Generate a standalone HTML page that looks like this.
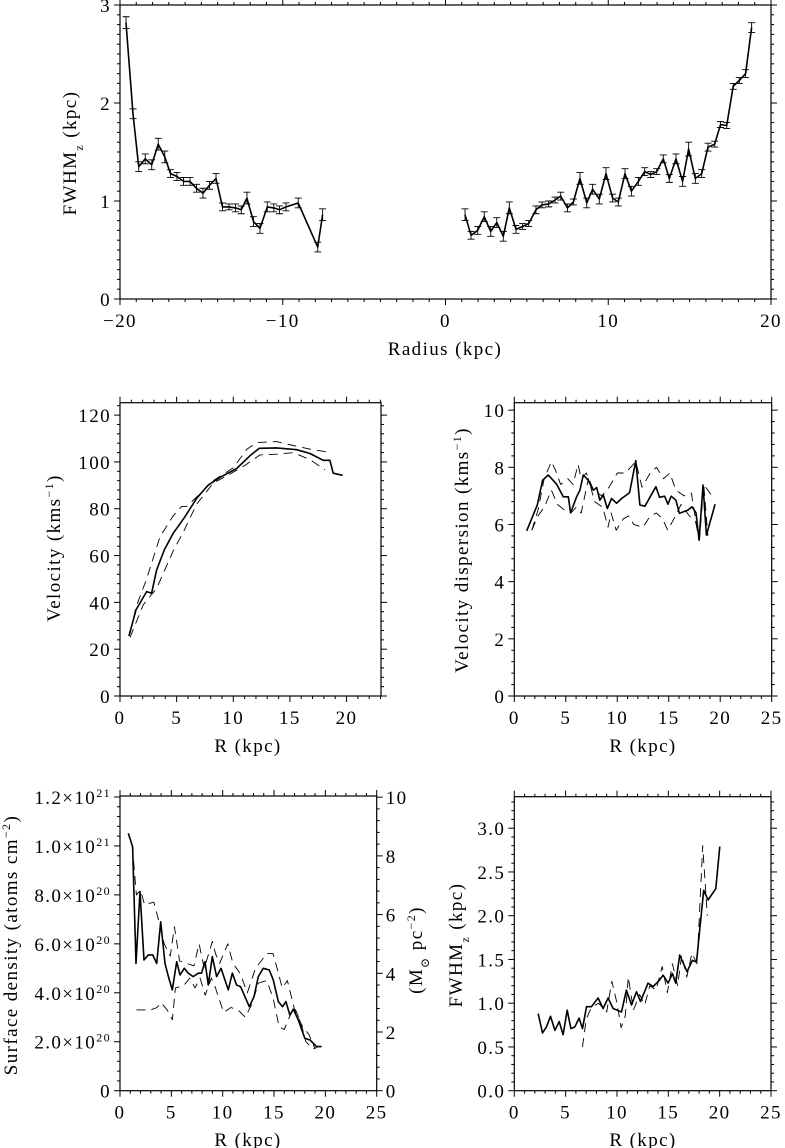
<!DOCTYPE html>
<html><head><meta charset="utf-8"><style>
body{margin:0;background:#fff;}
svg{display:block;font-family:"Liberation Serif","DejaVu Serif",serif;}
text{fill:#000;}
</style></head><body>
<svg id="fig" width="785" height="1148" viewBox="0 0 785 1148" xmlns="http://www.w3.org/2000/svg"></svg>
<script>
// ---------- Panel 1: FWHMz vs Radius ----------
const p1LeftR=[-19.63,-19.2,-18.85,-18.45,-18.05,-17.65,-17.25,-16.9,-16.5,-16.1,-15.7,-15.3,-14.9,-14.5,-14.1,-13.7,-13.3,-12.9,-12.55,-12.2,-11.8,-11.4,-10.95,-10.55,-10.2,-9.8,-9.05,-7.85,-7.55];
const p1LeftF=[2.82,1.89,1.35,1.43,1.37,1.58,1.45,1.28,1.25,1.2,1.2,1.13,1.08,1.16,1.23,0.94,0.94,0.93,0.91,1.03,0.79,0.72,0.94,0.93,0.91,0.94,0.98,0.53,0.86];
const p1LeftE=[0.06,0.05,0.05,0.05,0.05,0.06,0.06,0.04,0.04,0.04,0.04,0.04,0.05,0.04,0.05,0.04,0.03,0.04,0.04,0.06,0.05,0.05,0.05,0.04,0.04,0.04,0.05,0.05,0.06];
const p1RightR=[1.2,1.57,1.98,2.38,2.78,3.15,3.55,3.92,4.33,4.74,5.11,5.56,5.93,6.34,6.73,7.08,7.49,7.86,8.26,8.68,9.04,9.45,9.86,10.27,10.62,11.03,11.42,11.85,12.24,12.61,12.98,13.38,13.75,14.16,14.57,14.94,15.35,15.74,16.13,16.54,16.9,17.28,17.68,18.05,18.44,18.81];
const p1RightF=[0.86,0.65,0.70,0.84,0.69,0.78,0.64,0.93,0.71,0.74,0.77,0.91,0.96,0.97,1.01,1.05,0.93,0.99,1.23,0.98,1.12,1.02,1.28,1.03,0.99,1.28,1.10,1.20,1.30,1.27,1.30,1.43,1.23,1.43,1.20,1.53,1.23,1.28,1.55,1.58,1.78,1.77,2.17,2.23,2.30,2.77];
const p1RightE=[0.06,0.04,0.04,0.05,0.05,0.05,0.05,0.06,0.04,0.03,0.03,0.04,0.03,0.03,0.03,0.04,0.04,0.03,0.06,0.05,0.05,0.05,0.06,0.04,0.04,0.05,0.05,0.04,0.04,0.03,0.03,0.04,0.04,0.05,0.05,0.07,0.05,0.04,0.04,0.03,0.03,0.03,0.03,0.03,0.04,0.05];
const p1XTicks=[-20,-10,0,10,20];
const p1XLabels=["\u221220","\u221210","0","10","20"];
const p1YTicks=[0,1,2,3];
const p1YLabels=["0","1","2","3"];

// ---------- Panel 2: Velocity ----------
const velR=[0.79,1.41,2.35,2.79,3.23,3.91,4.7,5.74,6.77,7.8,8.83,10.3,11.47,12.3,13.83,15.6,16.77,17.94,18.53,18.82,19.65];
const velV=[25.6,36.8,44.6,43.9,53.8,62.4,69.5,76.6,84.5,90.2,93.4,97.2,102.6,105.8,106,105.2,103.6,100.7,100.7,95.2,94.3];
const velUpR=[0.9,1.41,2.35,3.53,4.7,5.44,5.88,6.77,8.24,10.0,11.2,12.06,13.83,15.3,17.0,18.38];
const velUpV=[27,38,50,68,77,81,81,85,92,97.5,105.4,108.3,108.7,107,105.2,104.2];
const velLoR=[0.88,2.06,3.24,4.7,5.59,6.77,8.24,9.41,11.03,12.36,13.83,15.3,16.77,18.1];
const velLoV=[25,39,46,62,70,82,91,94,98.5,103,103.3,104,101,96.6];
const p2XTicks=[0,5,10,15,20];
const p2YTicks=[0,20,40,60,80,100,120];

// ---------- Panel 3: Velocity dispersion ----------
const dispR=[1.2,2.23,2.75,3.3,4.11,4.76,5.24,5.47,6.05,6.37,6.7,7.18,7.67,8.0,8.3,8.64,9.03,9.45,9.94,10.42,10.9,11.2,11.8,12.2,12.68,13.75,14.1,14.6,14.92,15.24,15.7,16.04,16.84,17.26,17.65,17.95,18.33,18.66,19.5];
const dispV=[5.78,6.68,7.55,7.73,7.41,6.97,6.97,6.41,6.97,7.2,7.73,7.55,7.2,7.29,6.85,7.03,6.56,6.91,6.74,6.91,7.03,7.12,8.23,6.68,6.64,7.32,6.95,6.99,6.71,6.99,6.85,6.39,6.5,6.62,6.41,5.45,7.38,5.63,6.71];
const dispUpR=[1.7,2.3,2.9,3.6,4.0,4.5,5.2,5.7,6.2,6.5,7.0,7.7,8.5,9.2,10.0,10.8,11.8,12.4,13.2,13.8,14.5,15.1,15.7,16.5,17.2,17.9,18.4,19.2,19.5];
const dispUpV=[5.8,6.5,7.6,8.2,7.9,7.4,7.6,7.4,8.1,7.6,7.8,7.2,7.0,7.3,7.8,7.8,8.2,7.3,7.8,8.0,7.6,7.8,7.2,7.0,7.1,5.5,7.4,7.0,6.9];
const dispLoR=[1.7,2.3,2.9,3.6,4.2,4.9,5.5,6.0,6.5,7.2,7.8,8.6,9.1,9.4,9.9,10.6,11.1,11.6,12.5,13.2,13.8,14.4,14.9,15.5,16.2,17.0,17.6,18.0,18.4,18.8];
const dispLoV=[5.8,6.3,6.6,7.2,6.7,6.5,6.4,6.6,6.4,7.6,6.8,6.6,5.9,6.4,5.8,6.2,6.3,6.0,5.9,6.3,6.4,6.2,5.8,6.2,6.7,6.3,6.1,5.5,7.4,5.6];
const p3XTicks=[0,5,10,15,20,25];
const p3YTicks=[0,2,4,6,8,10];

// ---------- Panel 4: Surface density (units of 1e20 atoms cm^-2) ----------
const sdR=[0.81,1.23,1.56,1.95,2.34,2.76,3.18,3.57,3.96,4.38,4.71,5.09,5.52,5.84,6.26,6.65,7.13,7.62,7.94,8.28,8.6,8.99,9.41,9.84,10.55,10.94,11.36,11.75,12.59,13.05,13.47,13.95,14.54,14.93,15.42,15.84,16.16,16.55,16.88,17.36,18.0,18.5,19.15,19.63];
const sdN=[10.52,9.97,5.2,8.13,5.34,5.55,5.55,5.2,6.9,5.2,4.66,4.12,5.27,4.73,5.0,4.8,4.66,4.8,4.8,5.27,4.32,5.48,4.66,5.0,4.12,4.8,4.32,4.25,3.43,3.84,4.66,5.0,4.93,4.52,3.64,3.43,3.64,3.09,3.33,2.89,2.14,2.07,1.8,1.8];
const sdUpR=[1.2,1.6,2.0,2.4,3.3,3.8,4.3,4.9,5.3,5.8,6.5,7.2,7.7,8.2,9.0,9.3,9.7,10.5,11.0,11.7,12.4,13.2,14.3,14.9,15.3,15.8,16.3,17.0,17.8,18.4,19.0];
const sdUpN=[10,8.0,8.2,7.6,7.7,6.9,6.0,5.5,6.7,5.3,5.2,5.1,6.0,5.0,6.1,5.6,5.2,6.0,5.2,4.8,4.0,5.0,5.6,5.6,5.0,4.2,4.5,3.3,2.6,2.3,1.7];
const sdLoR=[1.6,2.4,3.0,3.6,4.0,4.6,5.1,5.4,6.2,6.8,7.3,7.8,8.3,8.9,9.3,9.6,10.1,10.8,11.5,12.2,12.8,13.5,14.3,14.9,15.5,16.0,16.6,17.0,17.6,18.1,18.8,19.3];
const sdLoN=[3.3,3.3,3.3,3.4,3.6,3.3,2.9,4.2,4.3,4.6,4.2,4.6,3.9,4.6,4.2,3.8,3.2,3.4,3.3,3.0,3.5,4.4,4.5,3.8,2.6,2.5,3.1,3.4,2.8,2.0,1.7,1.8];
const p4XTicks=[0,5,10,15,20,25];
const p4YTicks=[0,2,4,6,8,10,12];
const p4YMant=["0","2.0","4.0","6.0","8.0","1.0","1.2"];
const p4YExp=["","20","20","20","20","21","21"];
const p4RTicks=[0,2,4,6,8,10];

// ---------- Panel 5: FWHMz vs R ----------
const fwR=[2.33,2.75,3.14,3.53,3.95,4.37,4.75,5.15,5.51,5.9,6.31,6.64,7.03,7.52,8.16,8.65,9.14,9.62,10.44,10.92,11.41,11.9,12.29,12.61,13.03,13.52,14.1,14.49,14.98,15.4,15.72,16.11,16.82,17.35,17.74,18.45,18.87,19.62,20.01];
const fwF=[0.88,0.66,0.73,0.85,0.69,0.79,0.64,0.92,0.71,0.73,0.83,0.71,0.96,0.96,1.06,0.94,1.06,0.94,0.9,1.15,0.98,1.13,1.02,1.11,1.23,1.19,1.26,1.32,1.23,1.34,1.23,1.55,1.36,1.49,1.47,2.29,2.18,2.31,2.79];
const fwDR=[6.64,7.0,7.5,8.2,9.0,9.5,10.0,10.4,10.8,11.1,11.6,12.2,12.7,13.2,13.8,14.4,14.9,15.4,15.9,16.3,16.8,17.3,17.8,18.35,18.8];
const fwDF=[0.5,0.82,0.95,1.0,0.9,1.25,1.0,0.72,0.85,1.3,0.92,1.1,0.98,1.2,1.15,1.42,1.12,1.45,1.2,1.55,1.3,1.57,1.45,2.8,2.0];
const p5XTicks=[0,5,10,15,20,25];
const p5YTicks=[0,0.5,1.0,1.5,2.0,2.5,3.0];
const p5YLabels=["0.0","0.5","1.0","1.5","2.0","2.5","3.0"];

const NS="http://www.w3.org/2000/svg";
const svg=document.getElementById('fig');
const FS=19, LS='1.4';
function mk(tag,attrs,parent){const e=document.createElementNS(NS,tag);for(const k in attrs)e.setAttribute(k,attrs[k]);(parent||svg).appendChild(e);return e;}

function makeAxes(cfg){
  const sx=v=>cfg.x0+(v-cfg.xmin)/(cfg.xmax-cfg.xmin)*(cfg.x1-cfg.x0);
  const sy=v=>cfg.y0-(v-cfg.ymin)/(cfg.ymax-cfg.ymin)*(cfg.y0-cfg.y1);
  return {sx,sy};
}
function line(g,x1,y1,x2,y2){mk('line',{x1,y1,x2,y2,stroke:'#000','stroke-width':1},g);}
function drawFrame(g,cfg,ax){
  const r=mk('rect',{x:cfg.x0,y:cfg.y1,width:cfg.x1-cfg.x0,height:cfg.y0-cfg.y1,fill:'none',stroke:'#000','stroke-width':1.2},g);
  
  
  for(let v=cfg.xmin;v<=cfg.xmax+1e-9;v+=cfg.xminor){
    const x=ax.sx(v);const isMaj=Math.abs(v/cfg.xmajor-Math.round(v/cfg.xmajor))<1e-6;const L=isMaj?6:3;
    line(g,x,cfg.y0,x,cfg.y0+L);line(g,x,cfg.y1,x,cfg.y1-L);
  }
  for(let v=cfg.ymin;v<=cfg.ymax+1e-9;v+=cfg.yminor){
    const y=ax.sy(v);const isMaj=Math.abs(v/cfg.ymajor-Math.round(v/cfg.ymajor))<1e-6;const L=isMaj?6:3;
    line(g,cfg.x0,y,cfg.x0-L,y);
    if(!cfg.rightAxis) line(g,cfg.x1,y,cfg.x1+L,y);
  }
}
function txt(g,x,y,s,anchor,size){const t=mk('text',{x,y,'text-anchor':anchor||'middle','font-size':size||FS,'letter-spacing':LS},g);t.textContent=s;return t;}
function xTickLabels(g,cfg,ax,ticks,labels){
  ticks.forEach((v,i)=>{const t=txt(g,ax.sx(v),cfg.y0+28,labels?labels[i]:String(v));
    
    });
}
function yTickLabels(g,cfg,ax,ticks,labels){
  ticks.forEach((v,i)=>{const t=txt(g,cfg.x0-9,ax.sy(v)+7,labels?labels[i]:String(v),'end');
    
    });
}
function yTitle(g,x,y,parts,name){
  const t=mk('text',{x:0,y:0,'text-anchor':'middle','font-size':FS,'letter-spacing':LS,transform:`translate(${x},${y}) rotate(-90)`},g);
  parts.forEach(p=>{const s=mk('tspan',p.sup?{'baseline-shift':'super','font-size':12}:(p.sub?{'baseline-shift':'sub','font-size':12}:{}),t);s.textContent=p.t;});
  
  
}
function xTitle(g,x,y,s){const t=txt(g,x,y,s);
  
  }
function series(g,ax,xs,ys,dashed,name,w){
  const d=xs.map((x,i)=>(i?'L':'M')+ax.sx(x).toFixed(1)+','+ax.sy(ys[i]).toFixed(1)).join(' ');
  const p=mk('path',{d,fill:'none',stroke:'#000','stroke-width':w||(dashed?0.9:1.6),'stroke-dasharray':dashed?'9,6':'none','stroke-linejoin':'round'},g);
  
  
}
function errbars(g,ax,xs,ys,es){
  xs.forEach((x,i)=>{const px=ax.sx(x),yt=ax.sy(ys[i]+es[i]),yb=ax.sy(ys[i]-es[i]);
    const p=mk('path',{d:`M${px},${yt}L${px},${yb}M${px-3.5},${yt}L${px+3.5},${yt}M${px-3.5},${yb}L${px+3.5},${yb}`,stroke:'#000','stroke-width':0.9,fill:'none'},g);
    
    });
}
function panel(name){const g=mk('g',{});
  
  
  return g;}

// Panel 1
{const cfg={x0:120,x1:771,xmin:-20,xmax:20,y0:299,y1:5,ymin:0,ymax:3,xmajor:10,xminor:1,ymajor:1,yminor:0.1};
 const g=panel('fwhm-radius-panel');const ax=makeAxes(cfg);drawFrame(g,cfg,ax);
 xTickLabels(g,cfg,ax,p1XTicks,p1XLabels);yTickLabels(g,cfg,ax,p1YTicks,p1YLabels);
 errbars(g,ax,p1LeftR,p1LeftF,p1LeftE);errbars(g,ax,p1RightR,p1RightF,p1RightE);
 series(g,ax,p1LeftR,p1LeftF,false,'fwhm-line-negative');series(g,ax,p1RightR,p1RightF,false,'fwhm-line-positive');
 xTitle(g,445,355,'Radius (kpc)');
 yTitle(g,76,153,[{t:'FWHM'},{t:'z',sub:1},{t:' (kpc)'}],'y-axis-title');}
// Panel 2
{const cfg={x0:120,x1:381,xmin:0,xmax:23.04,y0:696,y1:402.7,ymin:0,ymax:125.3,xmajor:5,xminor:1,ymajor:20,yminor:4};
 const g=panel('velocity-panel');const ax=makeAxes(cfg);drawFrame(g,cfg,ax);
 xTickLabels(g,cfg,ax,p2XTicks);yTickLabels(g,cfg,ax,p2YTicks);
 series(g,ax,velUpR,velUpV,true,'velocity-upper-dashed');series(g,ax,velLoR,velLoV,true,'velocity-lower-dashed');
 series(g,ax,velR,velV,false,'velocity-line');
 xTitle(g,248,752,'R (kpc)');
 yTitle(g,60,548,[{t:'Velocity (kms'},{t:'\u22121',sup:1},{t:')'}],'y-axis-title');}
// Panel 3
{const cfg={x0:514.3,x1:771.7,xmin:0,xmax:25,y0:696,y1:402.7,ymin:0,ymax:10.26,xmajor:5,xminor:1,ymajor:2,yminor:0.4};
 const g=panel('dispersion-panel');const ax=makeAxes(cfg);drawFrame(g,cfg,ax);
 xTickLabels(g,cfg,ax,p3XTicks);yTickLabels(g,cfg,ax,p3YTicks);
 series(g,ax,dispUpR,dispUpV,true,'dispersion-upper-dashed');series(g,ax,dispLoR,dispLoV,true,'dispersion-lower-dashed');
 series(g,ax,dispR,dispV,false,'dispersion-line');
 xTitle(g,643,752,'R (kpc)');
 yTitle(g,468,550,[{t:'Velocity dispersion (kms'},{t:'\u22121',sup:1},{t:')'}],'y-axis-title');}
// Panel 4
{const cfg={x0:120,x1:376.7,xmin:0,xmax:25,y0:1090.7,y1:796,ymin:0,ymax:12.04,xmajor:5,xminor:1,ymajor:2,yminor:0.4,rightAxis:true};
 const g=panel('surface-density-panel');const ax=makeAxes(cfg);drawFrame(g,cfg,ax);
 xTickLabels(g,cfg,ax,p4XTicks);
 p4YTicks.forEach((v,i)=>{const t=mk('text',{x:cfg.x0-9,y:ax.sy(v)+7,'text-anchor':'end','font-size':FS,'letter-spacing':LS},g);
   const a=mk('tspan',{},t);a.textContent=p4YMant[i]+(p4YExp[i]?'\u00d710':'');
   if(p4YExp[i]){const b=mk('tspan',{'baseline-shift':'super','font-size':12},t);b.textContent=p4YExp[i];}
   
   });
 const rmax=10.04,sr=v=>cfg.y0-v/rmax*(cfg.y0-cfg.y1);
 for(let v=0;v<=rmax+1e-9;v+=0.4){const y=sr(v);const maj=Math.abs(v/2-Math.round(v/2))<1e-6;line(g,cfg.x1,y,cfg.x1+(maj?6:3),y);}
 p4RTicks.forEach(v=>{const t=txt(g,cfg.x1+9,sr(v)+7,String(v),'start');
   
   });
 series(g,ax,sdUpR,sdUpN,true,'density-upper-dashed');series(g,ax,sdLoR,sdLoN,true,'density-lower-dashed');
 series(g,ax,sdR,sdN,false,'density-line');
 xTitle(g,248,1146,'R (kpc)');
 yTitle(g,17,945,[{t:'Surface density (atoms cm'},{t:'\u22122',sup:1},{t:')'}],'y-axis-title');
 yTitle(g,422,950,[{t:'(M'},{t:'\u2299',sub:1},{t:' pc'},{t:'\u22122',sup:1},{t:')'}],'right-y-axis-title');}
// Panel 5
{const cfg={x0:514.3,x1:771,xmin:0,xmax:25,y0:1090.7,y1:796.7,ymin:0,ymax:3.36,xmajor:5,xminor:1,ymajor:0.5,yminor:0.1};
 const g=panel('fwhm-r-panel');const ax=makeAxes(cfg);drawFrame(g,cfg,ax);
 xTickLabels(g,cfg,ax,p5XTicks);yTickLabels(g,cfg,ax,p5YTicks,p5YLabels);
 series(g,ax,fwDR,fwDF,true,'fwhm-dashed');
 series(g,ax,fwR,fwF,false,'fwhm-line');
 xTitle(g,643,1146,'R (kpc)');
 yTitle(g,462,945,[{t:'FWHM'},{t:'z',sub:1},{t:' (kpc)'}],'y-axis-title');}
</script>
</body></html>
